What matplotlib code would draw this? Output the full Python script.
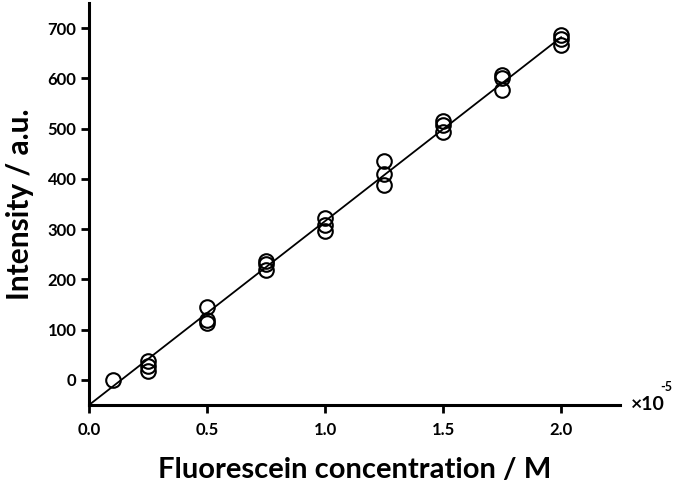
import numpy as np
import matplotlib.pyplot as plt

# donnees (concentration en 1e-5 M, intensite en u.a.)
conc = [0.1,
        0.25, 0.25, 0.25,
        0.5, 0.5, 0.5,
        0.75, 0.75, 0.75,
        1.0, 1.0, 1.0,
        1.25, 1.25, 1.25,
        1.5, 1.5, 1.5,
        1.75, 1.75, 1.75,
        2.0, 2.0, 2.0]
intensite = [0,
             38, 27, 18,
             146, 120, 113,
             236, 230, 219,
             322, 308, 296,
             435, 410, 388,
             515, 508, 494,
             606, 600, 576,
             686, 678, 666]

# droite d'ajustement (extremites)
fit_x = [0.0, 2.0]
fit_y = [-50, 682]

xticks = [0.0, 0.5, 1.0, 1.5, 2.0]
yticks = [0, 100, 200, 300, 400, 500, 600, 700]

plt.rcParams['font.family'] = ['Lato', 'DejaVu Sans']
plt.rcParams['font.weight'] = 'bold'

fig = plt.figure(figsize=(6.77, 4.86), dpi=100)
ax = fig.add_axes([0.1315, 0.1667, 0.7845, 0.827])

ax.plot(fit_x, fit_y, color='black', lw=1.3, zorder=2)
ax.plot(conc, intensite, 'o', ms=10.5, mfc='none', mec='black', mew=1.5, zorder=3)

ax.set_xlim(0, 2.25)
ax.set_ylim(-50, 750)
ax.set_xticks(xticks)
ax.set_xticklabels(['%.1f' % t for t in xticks])
ax.set_yticks(yticks)

for s in ['top', 'right']:
    ax.spines[s].set_visible(False)
for s in ['left', 'bottom']:
    ax.spines[s].set_linewidth(2.2)
ax.tick_params(direction='out', length=6, width=2, labelsize=12)
ax.tick_params(axis='x', pad=6)
ax.tick_params(axis='y', pad=3)
for lab in ax.get_xticklabels() + ax.get_yticklabels():
    lab.set_fontweight('bold')

ax.set_xlabel('Fluorescein concentration / M', fontsize=21, fontweight='bold', labelpad=14)
ax.set_ylabel('Intensity / a.u.', fontsize=21.5, fontweight='bold', labelpad=10)

# facteur d'echelle de l'axe x
ax.text(1.02, 0.0, '×10', transform=ax.transAxes, fontsize=14, fontweight='bold',
        ha='left', va='center', clip_on=False)
ax.text(1.075, 0.045, '-5', transform=ax.transAxes, fontsize=9, fontweight='bold',
        ha='left', va='center', clip_on=False)

fig.savefig('out.png', dpi=100)
